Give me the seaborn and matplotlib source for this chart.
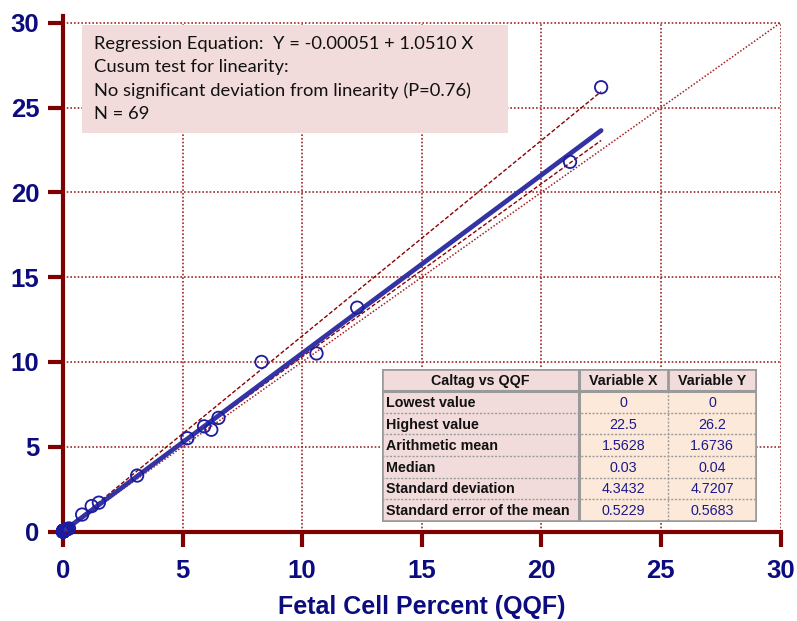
import numpy as np
import pandas as pd
import matplotlib
matplotlib.use('Agg')
import matplotlib.pyplot as plt
from matplotlib.patches import Rectangle
import seaborn as sns

# --- data ---
qqf_main = [22.5, 21.2, 12.3, 10.6, 8.3, 6.5, 6.2, 5.9, 5.2, 3.1, 1.5, 1.2, 0.8]
caltag_main = [26.2, 21.8, 13.2, 10.5, 10.0, 6.7, 6.0, 6.2, 5.5, 3.3, 1.7, 1.5, 1.0]
# the cluster sitting on the origin
qqf_low = [0.0, 0.0, 0.0, 0.0, 0.0, 0.0, 0.0, 0.0, 0.0, 0.0, 0.01, 0.01, 0.01, 0.01,
           0.01, 0.01, 0.01, 0.01, 0.02, 0.02, 0.02, 0.02, 0.02, 0.02, 0.02, 0.02,
           0.03, 0.03, 0.03, 0.03, 0.03, 0.03, 0.03, 0.03, 0.03, 0.04, 0.04, 0.04,
           0.04, 0.04, 0.05, 0.05, 0.05, 0.05, 0.06, 0.06, 0.06, 0.08, 0.08, 0.10,
           0.10, 0.12, 0.12, 0.15, 0.20, 0.25]
caltag_low = [0.0, 0.0, 0.0, 0.0, 0.0, 0.0, 0.0, 0.0, 0.0, 0.01, 0.01, 0.01, 0.01, 0.01,
              0.02, 0.02, 0.02, 0.02, 0.02, 0.02, 0.03, 0.03, 0.03, 0.03, 0.03, 0.03,
              0.04, 0.04, 0.04, 0.04, 0.04, 0.04, 0.04, 0.04, 0.04, 0.04, 0.05, 0.05,
              0.05, 0.05, 0.05, 0.06, 0.06, 0.06, 0.07, 0.07, 0.08, 0.08, 0.09, 0.10,
              0.10, 0.11, 0.12, 0.13, 0.15, 0.18]

reg_intercept, reg_slope = -0.00051, 1.0510
ci_upper = (0.0, 1.153)     # intercept, slope of upper 95% CI line
ci_lower = (0.09, 1.021)
fit_range = [0.0, 22.5]
identity_range = [0.0, 30.0]
ticks = [0, 5, 10, 15, 20, 25, 30]

info_lines = ['Regression Equation:  Y = -0.00051 + 1.0510 X',
              'Cusum test for linearity:',
              'No significant deviation from linearity (P=0.76)',
              'N = 69']

stat_header = ['Caltag vs QQF', 'Variable X', 'Variable Y']
stat_names = ['Lowest value', 'Highest value', 'Arithmetic mean', 'Median',
              'Standard deviation', 'Standard error of the mean']
stat_x = ['0', '22.5', '1.5628', '0.03', '4.3432', '0.5229']
stat_y = ['0', '26.2', '1.6736', '0.04', '4.7207', '0.5683']

sns.set_style('white')
plt.rcParams['font.family'] = ['Liberation Sans', 'DejaVu Sans']

DARKRED = '#7f0000'
NAVY = '#0c0c80'
PINK = '#f2dcdb'
PEACH = '#fde9d9'

W, H = 797, 621
fig = plt.figure(figsize=(W / 100, H / 100), dpi=100)
x0, x1, y0, y1 = 63, 780.5, 531.5, 16
ax = fig.add_axes([x0 / W, 1 - y0 / H, (x1 - x0) / W, (y0 - y1) / H])
ax.set_xlim(0, 30)
ax.set_ylim(0, 30.4)

# dotted grid, only up to 30
for t in ticks[1:]:
    ax.plot([t, t], [0, 30], ls=(0, (1, 1.2)), color='#a02828', lw=1.2, zorder=1)
    ax.plot([0, 30], [t, t], ls=(0, (1, 1.2)), color='#a02828', lw=1.2, zorder=1)

# identity line
ax.plot(identity_range, identity_range, ls=(0, (1, 1.2)), color='#a32020', lw=1.1, zorder=2)

# CI lines
fr = np.array(fit_range)
ax.plot(fr, ci_upper[0] + ci_upper[1] * fr, ls=(0, (3, 1.5)), color='#8b0000', lw=1.0, zorder=2)
ax.plot(fr, ci_lower[0] + ci_lower[1] * fr, ls=(0, (3, 1.5)), color='#8b0000', lw=1.0, zorder=2)

# regression line
reg_df = pd.DataFrame({'x': fr, 'y': reg_intercept + reg_slope * fr})
sns.lineplot(data=reg_df, x='x', y='y', color='#3333a3', lw=3.4, ax=ax, zorder=3)

pts = pd.DataFrame({'QQF': qqf_main + qqf_low, 'Caltag': caltag_main + caltag_low})
sns.scatterplot(data=pts, x='QQF', y='Caltag', s=80, facecolor='none',
                edgecolor='#1c1ca0', linewidth=1.3, ax=ax, zorder=4, clip_on=False)

for side in ['top', 'right']:
    ax.spines[side].set_visible(False)
for side in ['left', 'bottom']:
    ax.spines[side].set_color(DARKRED)
    ax.spines[side].set_linewidth(3)
ax.set_xticks(ticks)
ax.set_yticks(ticks)
ax.tick_params(axis='both', direction='out', length=11, width=3, color=DARKRED,
               labelsize=18.5, labelcolor=NAVY, bottom=True, left=True)
ax.tick_params(axis='x', pad=9)
ax.tick_params(axis='y', pad=6)
for lab in ax.get_xticklabels() + ax.get_yticklabels():
    lab.set_fontweight('bold')
ax.set_xlabel('Fetal Cell Percent (QQF)', fontsize=18, fontweight='bold', color=NAVY, labelpad=8.5)
ax.set_ylabel('')

# info box
fx = lambda px: (px - x0) / (x1 - x0)
fy = lambda py: (y0 - py) / (y0 - y1)
ax.add_patch(Rectangle((fx(82), fy(133)), fx(508) - fx(82), fy(25) - fy(133),
                       transform=ax.transAxes, facecolor=PINK, edgecolor='none', zorder=5))
for i, line in enumerate(info_lines):
    ax.text(fx(94), fy(44 + 23.4 * i), line, transform=ax.transAxes, fontsize=13.2,
            family=['Lato', 'DejaVu Sans'], color='#111111', va='center', ha='left', zorder=6)

# statistics table, drawn in pixel units
cols = [381.7, 579, 667.7, 756.7]
rows = [369, 391, 413.3, 434.3, 455.7, 477.7, 499, 521.7]
tax = fig.add_axes([cols[0] / W, 1 - rows[-1] / H, (cols[-1] - cols[0]) / W, (rows[-1] - rows[0]) / H])
tax.set_xlim(cols[0], cols[-1])
tax.set_ylim(rows[-1], rows[0])
tax.axis('off')
for r in range(len(rows) - 1):
    for c in range(3):
        fc = PINK if (r == 0 or c == 0) else PEACH
        tax.add_patch(Rectangle((cols[c], rows[r]), cols[c + 1] - cols[c], rows[r + 1] - rows[r],
                                facecolor=fc, edgecolor='none'))
GRAY = '#9a9a9a'
for r in rows[2:-1]:
    tax.plot([cols[0], cols[-1]], [r, r], color=GRAY, lw=1.0, ls=(0, (1.5, 1.2)))
tax.plot([cols[2], cols[2]], [rows[1], rows[-1]], color=GRAY, lw=1.0, ls=(0, (1.5, 1.2)))
tax.plot([cols[2], cols[2]], [rows[0], rows[1]], color=GRAY, lw=2)
tax.plot([cols[0], cols[-1]], [rows[1], rows[1]], color=GRAY, lw=2.2)
tax.plot([cols[1], cols[1]], [rows[0], rows[-1]], color=GRAY, lw=2.2)
tax.add_patch(Rectangle((cols[0], rows[0]), cols[-1] - cols[0], rows[-1] - rows[0],
                        facecolor='none', edgecolor=GRAY, lw=2.6))
for c, txt in enumerate(stat_header):
    tax.text((cols[c] + cols[c + 1]) / 2, (rows[0] + rows[1]) / 2 + 1, txt, ha='center',
             va='center', fontsize=10.3, fontweight='bold', color='#111111')
for r, name in enumerate(stat_names):
    ym = (rows[r + 1] + rows[r + 2]) / 2 + 1
    tax.text(cols[0] + 4, ym, name, ha='left', va='center', fontsize=10.3,
             fontweight='bold', color='#111111')
    tax.text((cols[1] + cols[2]) / 2, ym, stat_x[r], ha='center', va='center',
             fontsize=10.3, color='#1a1a8c')
    tax.text((cols[2] + cols[3]) / 2, ym, stat_y[r], ha='center', va='center',
             fontsize=10.3, color='#1a1a8c')

fig.savefig('out.png', dpi=100)
